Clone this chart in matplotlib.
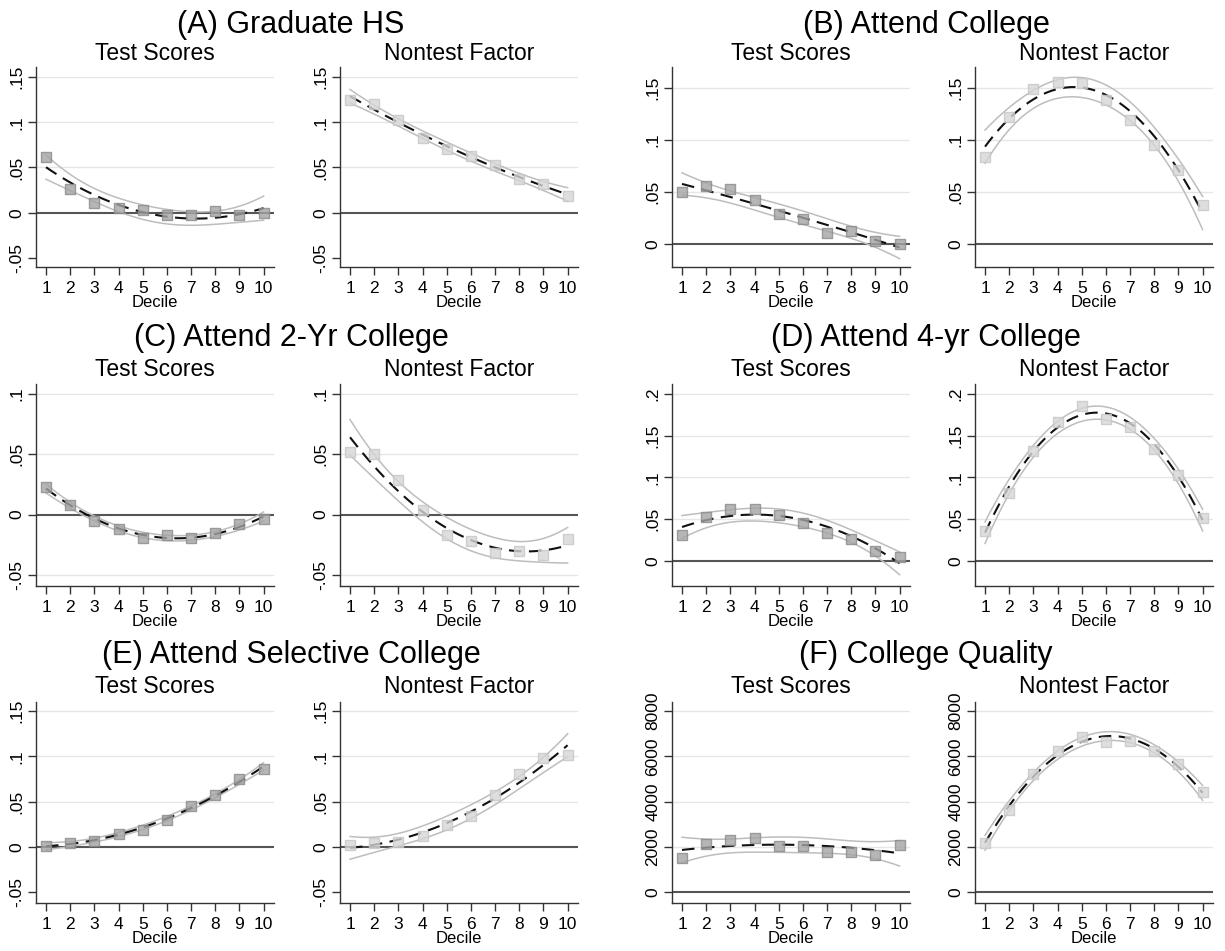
import numpy as np
import matplotlib
matplotlib.use("Agg")
import matplotlib.pyplot as plt

plt.rcParams['font.family'] = ['Liberation Sans', 'DejaVu Sans']

# ---------------- data ----------------
deciles = [1, 2, 3, 4, 5, 6, 7, 8, 9, 10]
decile_labels = ["1", "2", "3", "4", "5", "6", "7", "8", "9", "10"]

panel_titles = ["(A) Graduate HS", "(B) Attend College", "(C) Attend 2-Yr College",
                "(D) Attend 4-yr College", "(E) Attend Selective College", "(F) College Quality"]
sub_titles = ["Test Scores", "Nontest Factor"]
x_label = "Decile"

grad_hs_test = [0.061, 0.026, 0.011, 0.005, 0.003, -0.002, -0.003, 0.0015, -0.003, 0.000]
grad_hs_nontest = [0.125, 0.120, 0.102, 0.082, 0.070, 0.063, 0.053, 0.037, 0.032, 0.019]

college_test = [0.050, 0.056, 0.053, 0.042, 0.029, 0.024, 0.011, 0.013, 0.003, 0.000]
college_nontest = [0.084, 0.122, 0.149, 0.156, 0.155, 0.138, 0.119, 0.095, 0.071, 0.038]

two_yr_test = [0.023, 0.008, -0.005, -0.012, -0.019, -0.017, -0.019, -0.015, -0.008, -0.004]
two_yr_nontest = [0.052, 0.050, 0.029, 0.004, -0.017, -0.022, -0.032, -0.030, -0.033, -0.020]

four_yr_test = [0.031, 0.053, 0.062, 0.062, 0.055, 0.046, 0.033, 0.026, 0.012, 0.005]
four_yr_nontest = [0.036, 0.081, 0.132, 0.166, 0.186, 0.170, 0.161, 0.134, 0.103, 0.052]

selective_test = [0.001, 0.004, 0.007, 0.014, 0.019, 0.030, 0.045, 0.057, 0.075, 0.086]
selective_nontest = [0.002, 0.004, 0.005, 0.012, 0.024, 0.034, 0.057, 0.080, 0.098, 0.102]

quality_test = [1490, 2120, 2310, 2390, 2050, 2050, 1750, 1770, 1620, 2090]
quality_nontest = [2170, 3640, 5210, 6220, 6840, 6630, 6690, 6220, 5670, 4400]

yticks_a = [-0.05, 0, 0.05, 0.1, 0.15]
yticklabels_a = ["-.05", "0", ".05", ".1", ".15"]
yticks_b = [0, 0.05, 0.1, 0.15]
yticklabels_b = ["0", ".05", ".1", ".15"]
yticks_c = [-0.05, 0, 0.05, 0.1]
yticklabels_c = ["-.05", "0", ".05", ".1"]
yticks_d = [0, 0.05, 0.1, 0.15, 0.2]
yticklabels_d = ["0", ".05", ".1", ".15", ".2"]
yticks_f = [0, 2000, 4000, 6000, 8000]
yticklabels_f = ["0", "2000", "4000", "6000", "8000"]

# ---------------- layout / style ----------------
W, H = 1225, 951
fig = plt.figure(figsize=(W / 100, H / 100), dpi=100)
fig.patch.set_facecolor("white")

T_CRIT = 2.365  # Student t(0.975, df = 10 - 3)


def px_axes(l, t, r, b):
    return fig.add_axes([l / W, 1 - b / H, (r - l) / W, (b - t) / H])


def qfitci(x, y, grid):
    x = np.asarray(x, float)
    y = np.asarray(y, float)
    X = np.column_stack([np.ones_like(x), x, x ** 2])
    beta, *_ = np.linalg.lstsq(X, y, rcond=None)
    resid = y - X @ beta
    s2 = resid @ resid / (len(x) - 3)
    xtxi = np.linalg.inv(X.T @ X)
    G = np.column_stack([np.ones_like(grid), grid, grid ** 2])
    fit = G @ beta
    se = np.sqrt(np.einsum('ij,jk,ik->i', G, xtxi, G) * s2)
    return fit, fit - T_CRIT * se, fit + T_CRIT * se


def draw(ax, y, ylim, yticks, ylabels, grid_ticks, marker_face, marker_edge):
    ax.set_xlim(0.585, 10.43)
    ax.set_ylim(*ylim)
    for g in grid_ticks:
        ax.axhline(g, color="#e6e6e6", lw=1.0, zorder=0)
    ax.axhline(0, color="#555555", lw=1.5, zorder=1)
    grid = np.linspace(1, 10, 120)
    fit, lo, hi = qfitci(deciles, y, grid)
    ax.plot(grid, lo, color="#bdbdbd", lw=1.1, zorder=2)
    ax.plot(grid, hi, color="#bdbdbd", lw=1.1, zorder=2)
    ax.plot(grid, fit, color="#111111", lw=1.5, ls=(0, (6.0, 3.6)), zorder=3)
    ax.scatter(deciles, y, marker="s", s=60, facecolor=marker_face,
               edgecolor=marker_edge, linewidth=1.0, alpha=0.8, zorder=4)
    ax.set_xticks(deciles)
    ax.set_xticklabels(decile_labels, fontsize=12.5)
    ax.set_yticks(yticks)
    ax.set_yticklabels(ylabels, fontsize=12.5, rotation=90, va="center")
    ax.tick_params(axis="x", length=6, width=1, color="#333333", pad=4.0)
    ax.tick_params(axis="y", length=6, width=1, color="#333333", pad=2.5)
    ax.set_xlabel(x_label, fontsize=12, labelpad=-0.5)
    for s in ["top", "right"]:
        ax.spines[s].set_visible(False)
    for s in ["left", "bottom"]:
        ax.spines[s].set_color("#333333")
        ax.spines[s].set_linewidth(1.0)
    ax.set_facecolor("white")


rows = [
    dict(top=67, bottom=267, title_base=32.5, sub_base=60),
    dict(top=384, bottom=586, title_base=346, sub_base=376),
    dict(top=702, bottom=903, title_base=663, sub_base=693),
]
cols_x = [(36, 274), (340, 578), (672, 910), (975, 1213)]
title_cx = [291, 926]

panels = [
    (grad_hs_test, grad_hs_nontest, (-0.06, 0.161), yticks_a, yticklabels_a, [0.05, 0.1, 0.15]),
    (college_test, college_nontest, (-0.022, 0.17), yticks_b, yticklabels_b, [0.05, 0.1, 0.15]),
    (two_yr_test, two_yr_nontest, (-0.059, 0.108), yticks_c, yticklabels_c, [-0.05, 0.05, 0.1]),
    (four_yr_test, four_yr_nontest, (-0.030, 0.212), yticks_d, yticklabels_d, [0.05, 0.1, 0.15, 0.2]),
    (selective_test, selective_nontest, (-0.062, 0.160), yticks_a, yticklabels_a, [0.05, 0.1, 0.15]),
    (quality_test, quality_nontest, (-486, 8398), yticks_f, yticklabels_f, [2000, 4000, 6000, 8000]),
]

for i, (ytest, ynon, ylim, yt, yl, gt) in enumerate(panels):
    r = rows[i // 2]
    side = i % 2
    fig.text(title_cx[side] / W, 1 - r["title_base"] / H, panel_titles[i],
             ha="center", va="baseline", fontsize=22)
    for j, (yv, face, edge) in enumerate([(ytest, "#a4a4a4", "#8a8a8a"),
                                          (ynon, "#d6d6d6", "#c6c6c6")]):
        l, rr = cols_x[side * 2 + j]
        ax = px_axes(l, r["top"], rr, r["bottom"])
        draw(ax, yv, ylim, yt, yl, gt, face, edge)
        fig.text((l + rr) / 2 / W, 1 - r["sub_base"] / H, sub_titles[j],
                 ha="center", va="baseline", fontsize=16.5)

fig.savefig("out.png", dpi=100, facecolor="white")
